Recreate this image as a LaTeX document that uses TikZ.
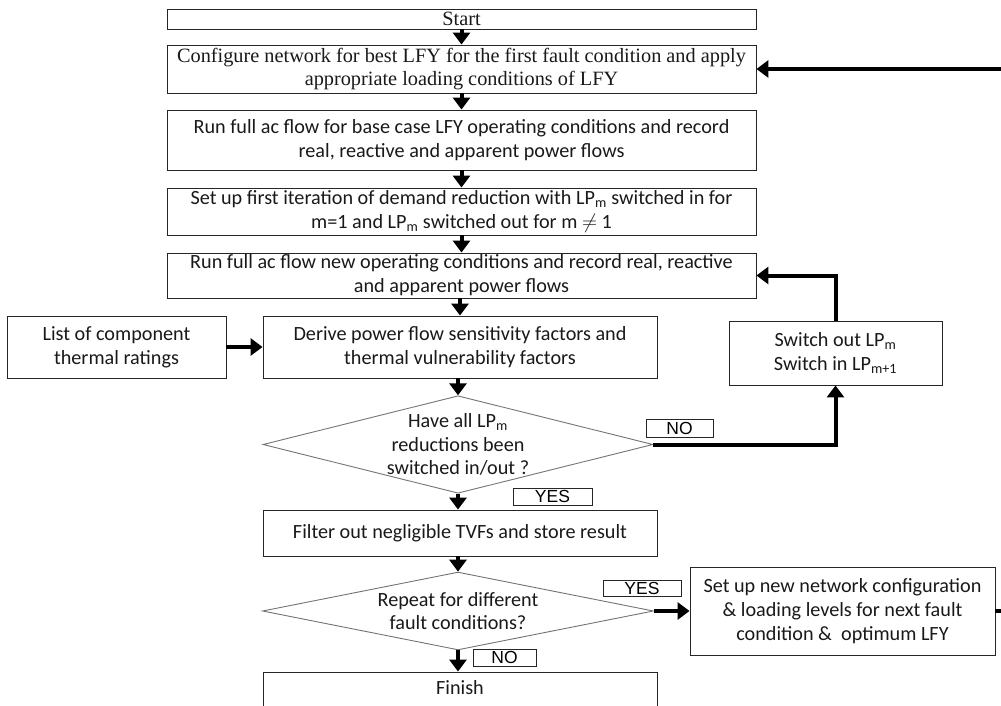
\documentclass[tikz,border=0pt]{standalone}
\usepackage{fontspec}
\setmainfont{Carlito}
\newfontfamily\serifA{Liberation Serif}
\newfontfamily\arialA{Liberation Sans}
\usetikzlibrary{arrows.meta,shapes.geometric}
\begin{document}
\begin{tikzpicture}[x=1pt,y=-1pt,
  box/.style={draw=black!85, line width=0.9pt, rectangle, inner sep=0pt, align=center,
    text=black!90, font=\fontsize{20.2}{24}\selectfont},
  serifbox/.style={box, font=\serifA\fontsize{20.3}{22.5}\selectfont},
  decision/.style={draw=black!55, line width=0.9pt, diamond, aspect=4, inner sep=0pt,
    align=center, text=black!90, font=\fontsize{20.2}{23.5}\selectfont},
  tag/.style={draw=black!85, line width=0.8pt, rectangle, inner sep=0pt,
    font=\arialA\fontsize{17.5}{18}\selectfont},
  arr/.style={line width=4pt, -{Triangle[length=12pt,width=17pt]}}
]
\useasboundingbox (0,0) rectangle (1001,706);

\node[serifbox, minimum width=589, minimum height=20] (start) at (461.5,19) {Start};
\node[serifbox, minimum width=589, minimum height=48] (cfg) at (461.5,69)
  {Configure network for best LFY for the first fault condition and apply\\appropriate loading conditions of LFY};
\node[box, minimum width=589, minimum height=60] (base) at (461.5,140)
  {Run full ac flow for base case LFY operating conditions and record\\real, reactive and apparent power flows};
\node[box, minimum width=589, minimum height=47] (iter) at (461.5,211.5)
  {Set up first iteration of demand reduction with LP\textsubscript{m} switched in for\\m=1 and LP\textsubscript{m} switched out for m \ensuremath{\neq} 1};
\node[box, minimum width=589, minimum height=45] (runnew) at (461.5,275.5)
  {Run full ac flow new operating conditions and record real, reactive\\and apparent power flows};
\node[box, minimum width=219, minimum height=62] (list) at (116.5,347)
  {List of component\\thermal ratings};
\node[box, minimum width=394, minimum height=62] (derive) at (460,347)
  {Derive power flow sensitivity factors and\\thermal vulnerability factors};
\node[box, minimum width=213, minimum height=64] (switch) at (835.5,353)
  {Switch out LP\textsubscript{m}\\Switch in LP\textsubscript{m+1}};
\node[decision, minimum width=390, minimum height=97] (d1) at (458,444.5)
  {Have all LP\textsubscript{m}\\reductions been\\switched in/out ?};
\node[tag, minimum width=67, minimum height=18] (no1) at (679.5,428) {NO};
\node[tag, minimum width=79, minimum height=17] (yes1) at (552.5,496.5) {YES};
\node[box, minimum width=394, minimum height=46] (filter) at (460,533)
  {Filter out negligible TVFs and store result};
\node[decision, minimum width=391, minimum height=73] (d2) at (458,611)
  {Repeat for different\\fault conditions?};
\node[tag, minimum width=78, minimum height=16] (yes2) at (642,588) {YES};
\node[box, minimum width=305, minimum height=88] (newcfg) at (842.5,611)
  {Set up new network configuration\\\& loading levels for next fault\\condition \&\ \ optimum LFY};
\node[tag, minimum width=63, minimum height=17] (no2) at (504.5,657.5) {NO};
\node[box, minimum width=394, minimum height=40, text height=11pt, text depth=6pt] (finish) at (460,692) {Finish};

\draw[arr] (start.south) -- (cfg.north);
\draw[arr] (cfg.south) -- (base.north);
\draw[arr] (base.south) -- (iter.north);
\draw[arr] (iter.south) -- (runnew.north);
\draw[arr] (runnew.south -| derive.north) -- (derive.north);
\draw[arr] (list.east) -- (derive.west);
\draw[arr] (derive.south -| d1.north) -- (d1.north);
\draw[arr] (d1.south) -- (d1.south |- filter.north);
\draw[arr] (filter.south -| d2.north) -- (d2.north);
\draw[arr] (d2.south) -- (d2.south |- finish.north);
\draw[arr] (d1.east) -| (switch.south);
\draw[arr] (switch.north) |- (runnew.east);
\draw[arr] (d2.east) -- (newcfg.west);
\draw[arr] (newcfg.east) -- ++(16,0) |- (cfg.east);
\end{tikzpicture}
\end{document}
